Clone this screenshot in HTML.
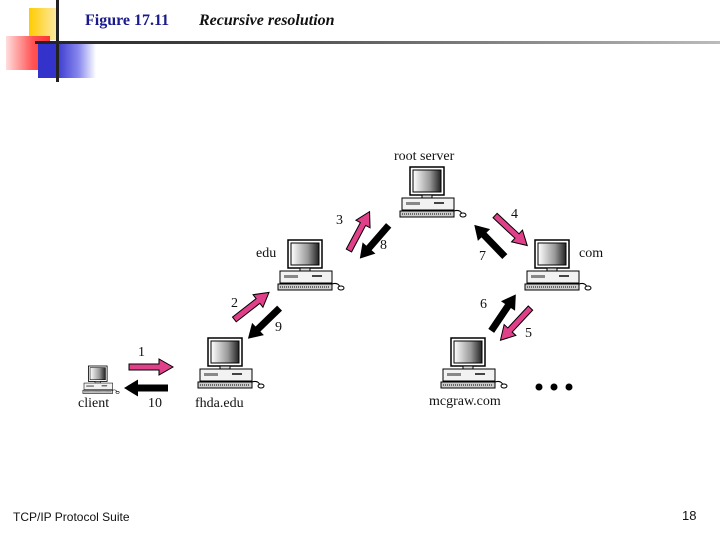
<!DOCTYPE html>
<html><head><style>
body{margin:0;width:720px;height:540px;background:#fff;overflow:hidden;position:relative;font-family:"Liberation Serif",serif}
.t{position:absolute;white-space:nowrap;color:#111}
</style></head><body>
<div style="position:absolute;left:29px;top:8px;width:30px;height:32px;background:linear-gradient(90deg,#fc0,#fde9a0 90%,#fff)"></div>
<div style="position:absolute;left:6px;top:36px;width:44px;height:34px;background:linear-gradient(90deg,#fdd 0%,#f55 60%,#f33)"></div>
<div style="position:absolute;left:38px;top:44px;width:58px;height:34px;background:linear-gradient(90deg,#33c 0%,#33c 30%,#88e 70%,#fff)"></div>
<div style="position:absolute;left:56px;top:0;width:3px;height:82px;background:#222"></div>
<div style="position:absolute;left:35px;top:41px;width:685px;height:3px;background:linear-gradient(90deg,#222,#555 40%,#bbb)"></div>
<div class="t" style="left:85px;top:12px;font-size:16px;color:#1a1a8c;font-weight:bold">Figure 17.11</div>
<div class="t" style="left:199px;top:12px;font-size:16px;font-style:italic;font-weight:bold">Recursive resolution</div>

<svg width="720" height="540" style="position:absolute;left:0;top:0">
<defs>
<linearGradient id="sc" x1="0" x2="1"><stop offset="0" stop-color="#fff"/><stop offset="0.6" stop-color="#999"/><stop offset="1" stop-color="#222"/></linearGradient>
<g id="pc">
<rect x="8" y="0" width="34" height="28" fill="#fff" stroke="#000" stroke-width="1.5"/>
<rect x="11" y="3" width="28" height="22" fill="url(#sc)" stroke="#000"/>
<rect x="20" y="28" width="10" height="3" fill="#ddd" stroke="#000"/>
<rect x="0" y="31" width="52" height="12" fill="#f2f2f2" stroke="#000"/>
<rect x="4" y="35" width="14" height="3" fill="#888"/>
<rect x="32" y="35" width="10" height="2" fill="#444"/>
<rect x="-2" y="44" width="54" height="6" fill="#ccc" stroke="#000"/>
<path d="M0 47h50" stroke="#000" stroke-dasharray="1 1"/>
<path d="M52 44q6 -2 8 3" fill="none" stroke="#000"/>
<ellipse cx="61" cy="48" rx="3" ry="2" fill="#fff" stroke="#000"/>
</g>
<g id="pa"><path d="M0 -3H-30V3H0V8L14 0L0 -8Z" fill="#e0408a" stroke="#000" stroke-width="1"/></g>
<g id="ba"><path d="M0 -3.5H-30V3.5H0V8.5L14 0L0 -8.5Z" fill="#000"/></g>
</defs>
<use href="#pc" x="402" y="167"/>
<use href="#pc" x="280" y="240"/>
<use href="#pc" x="527" y="240"/>
<use href="#pc" x="200" y="338"/>
<use href="#pc" x="443" y="338"/>
<use href="#pc" transform="translate(84,366) scale(0.55)"/>
<use href="#pa" transform="translate(159,367) rotate(0)"/>
<use href="#ba" transform="translate(138,388) rotate(180)"/>
<use href="#pa" transform="translate(258,301) rotate(-38)"/>
<use href="#ba" transform="translate(258,329) rotate(136)"/>
<use href="#pa" transform="translate(363,224) rotate(-62)"/>
<use href="#ba" transform="translate(369,248) rotate(131)"/>
<use href="#pa" transform="translate(517,236) rotate(43)"/>
<use href="#ba" transform="translate(484,235) rotate(-134)"/>
<use href="#ba" transform="translate(508,306) rotate(-56)"/>
<use href="#pa" transform="translate(510,330) rotate(133)"/>
<circle cx="539" cy="387" r="3.5"/><circle cx="554" cy="387" r="3.5"/><circle cx="569" cy="387" r="3.5"/>
</svg>

<div class="t" style="left:394px;top:149px;font-size:14px">root server</div>
<div class="t" style="left:256px;top:246px;font-size:14px">edu</div>
<div class="t" style="left:579px;top:246px;font-size:14px">com</div>
<div class="t" style="left:78px;top:396px;font-size:14px">client</div>
<div class="t" style="left:195px;top:396px;font-size:14px">fhda.edu</div>
<div class="t" style="left:429px;top:394px;font-size:14px">mcgraw.com</div>
<div class="t" style="left:138px;top:345px;font-size:14px">1</div>
<div class="t" style="left:148px;top:396px;font-size:14px">10</div>
<div class="t" style="left:231px;top:296px;font-size:14px">2</div>
<div class="t" style="left:275px;top:320px;font-size:14px">9</div>
<div class="t" style="left:336px;top:213px;font-size:14px">3</div>
<div class="t" style="left:380px;top:238px;font-size:14px">8</div>
<div class="t" style="left:511px;top:207px;font-size:14px">4</div>
<div class="t" style="left:479px;top:249px;font-size:14px">7</div>
<div class="t" style="left:480px;top:297px;font-size:14px">6</div>
<div class="t" style="left:525px;top:326px;font-size:14px">5</div>

<div class="t" style="left:13px;top:510px;font-size:12px;font-family:'Liberation Sans',sans-serif">TCP/IP Protocol Suite</div>
<div class="t" style="left:682px;top:508px;font-size:13px;font-family:'Liberation Sans',sans-serif">18</div>
</body></html>
